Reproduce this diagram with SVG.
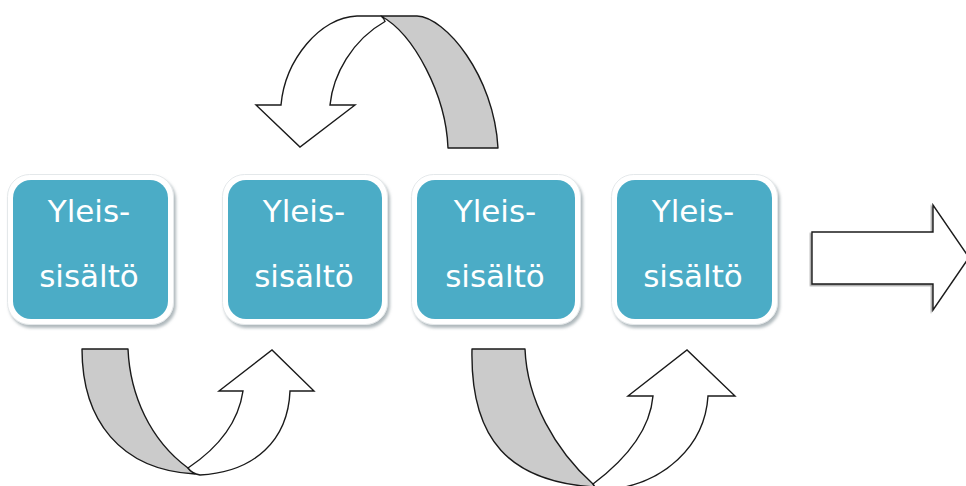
<svg xmlns="http://www.w3.org/2000/svg" width="966" height="486" viewBox="0 0 966 486">
  <defs>
    <filter id="shadow" x="-10%" y="-10%" width="125%" height="125%">
      <feDropShadow dx="2" dy="3" stdDeviation="1.5" flood-color="#7a8a90" flood-opacity="0.6"/>
    </filter>
    <filter id="ashadow" x="-5%" y="-5%" width="110%" height="115%">
      <feDropShadow dx="-1.5" dy="1.5" stdDeviation="0.6" flood-color="#000" flood-opacity="0.35"/>
    </filter>
  </defs>
  <style>
    .frame { fill: #ffffff; stroke: #e4e8ea; stroke-width: 1; }
    .box { fill: #4bacc6; }
    .lbl { font-family: "DejaVu Sans", "Open Sans", sans-serif; font-size: 31px; fill: #ffffff; text-anchor: middle; }
    .back { fill: #cbcbcb; stroke: #1a1a1a; stroke-width: 1.4; stroke-linejoin: round; }
    .front { fill: #ffffff; stroke: #1a1a1a; stroke-width: 1.4; stroke-linejoin: miter; }
  </style>
  <rect width="966" height="486" fill="#ffffff"/>

  <g id="node1">
    <rect class="frame" x="7.5" y="174.5" width="166" height="150" rx="22" filter="url(#shadow)"/>
    <rect class="box" x="13" y="180" width="155" height="139" rx="18"/>
    <text class="lbl" x="89" y="222">Yleis-</text>
    <text class="lbl" x="89" y="287">sisältö</text>
  </g>
  <g id="node2">
    <rect class="frame" x="222.5" y="174.5" width="165" height="150" rx="22" filter="url(#shadow)"/>
    <rect class="box" x="228" y="180" width="154" height="139" rx="18"/>
    <text class="lbl" x="304" y="222">Yleis-</text>
    <text class="lbl" x="304" y="287">sisältö</text>
  </g>
  <g id="node3">
    <rect class="frame" x="411.5" y="174.5" width="169" height="150" rx="22" filter="url(#shadow)"/>
    <rect class="box" x="417" y="180" width="158" height="139" rx="18"/>
    <text class="lbl" x="495" y="222">Yleis-</text>
    <text class="lbl" x="495" y="287">sisältö</text>
  </g>
  <g id="node4">
    <rect class="frame" x="611.5" y="174.5" width="166" height="150" rx="22" filter="url(#shadow)"/>
    <rect class="box" x="617" y="180" width="155" height="139" rx="18"/>
    <text class="lbl" x="693" y="222">Yleis-</text>
    <text class="lbl" x="693" y="287">sisältö</text>
  </g>

  <g id="connectors">
    <!-- top curved arrow: from node3 back over to node2 -->
    <g id="arrow-top">
      <path class="back" d="M381,16 L417,16 C445,17 494,75 498,148 L448,148 C446,95 414,34 381,16 Z"/>
      <path class="front" d="M381,16 L357,16 C320,17 285,60 281,105 L256,105 L300,147 L355,105 L330,105 C333,75 352,40 385,21.5 C384,19 382.5,17 381,16 Z"/>
    </g>
    <!-- bottom-left curved arrow: node1 to node2 -->
    <g id="arrow-bl">
      <path class="back" d="M82,349 L128,349 C130,395 150,440 188,468 L195,474 C120,470 82,420 82,349 Z"/>
      <path class="front" d="M188,468 C215,450 238,425 243,391 L219,391 L272,350 L314,391 L290,391 C288,440 255,472 200,475 C195,474 190,471 188,468 Z"/>
    </g>
    <!-- bottom-right curved arrow: node3 to node4 -->
    <g id="arrow-br">
      <path class="back" d="M472,349 L525,349 C527,400 555,450 593,484 L595,487 C510,482 470,440 472,349 Z"/>
      <path class="front" d="M593,484 C625,460 650,430 653,396 L628,396 L687,350 L735,396 L708,396 C705,445 665,485 605,490 L597,490 Z"/>
    </g>
    <!-- right block arrow -->
    <path id="arrow-right" class="front" filter="url(#ashadow)" d="M812,232 L933,232 L933,205 L969,257.5 L933,310 L933,284 L812,284 Z"/>
  </g>
</svg>
